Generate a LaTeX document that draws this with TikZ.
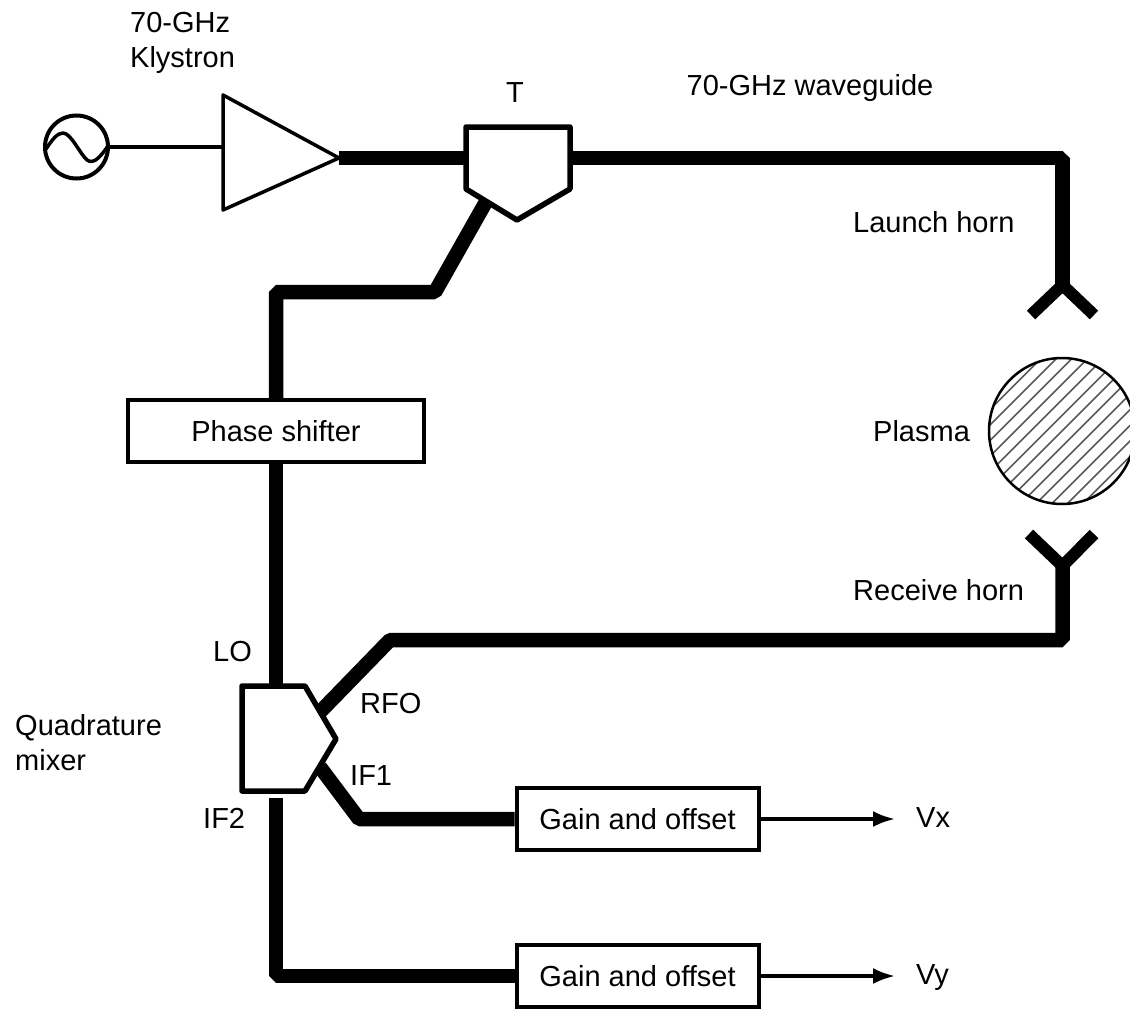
\documentclass[tikz,border=0pt]{standalone}
\usepackage{fontspec}
\setmainfont{Liberation Sans}
\usetikzlibrary{arrows.meta,calc,backgrounds}
\tikzset{
  wg/.style={line width=14.5pt,line join=bevel},
  hornline/.style={line width=12pt,line join=miter},
  thin wire/.style={line width=3.3pt},
  blockline/.style={line width=5.5pt,line join=round,fill=white},
  ampline/.style={line width=3.5pt,line join=round,fill=white},
  boxnode/.style={draw,line width=4pt,fill=white,minimum width=#1,minimum height=62pt,inner sep=0pt,font=\fontsize{29}{29}\selectfont},
  lab/.style={anchor=west,inner sep=0pt,font=\fontsize{29}{35}\selectfont},
  labc/.style={anchor=center,inner sep=0pt,font=\fontsize{29}{35}\selectfont},
  sig/.style={line width=3.5pt,-{Latex[length=22pt,width=16pt]}}
}
\begin{document}
\begin{tikzpicture}[x=1pt,y=-1pt]
\useasboundingbox (0,0) rectangle (1130,1009);
\clip (0,0) rectangle (1130,1009);
% anchors
\coordinate (oscC) at (76.5,147);
\coordinate (oscE) at (109,147);
\coordinate (ampIn) at (223,147);
\coordinate (ampTip) at (339,158);
\coordinate (teeW) at (466,158);
\coordinate (teeE) at (570,158);
\coordinate (teeS) at (487,200);
\coordinate (wgNE) at (1062.5,158);
\coordinate (lh) at (1062.5,285);
\coordinate (lhL) at (1031,315);
\coordinate (lhR) at (1094,315);
\coordinate (rh) at (1062.5,566);
\coordinate (rhL) at (1029,534);
\coordinate (rhR) at (1094,534);
\coordinate (rfCorner) at (1062.5,640);
\coordinate (rfBend) at (390,640);
\coordinate (mixRF) at (320,712);
\coordinate (mixIF) at (320,767);
\coordinate (ifBend) at (359,819);
\coordinate (bendA) at (435,292);
\coordinate (bendB) at (276,292);
\coordinate (mixN) at (276,688);
\coordinate (mixS) at (276,798);
\coordinate (bendC) at (276,976);
% boxes
\node[boxnode=296pt] (ps) at (276,431) {Phase shifter};
\node[boxnode=242pt] (g1) at (637.5,819) {Gain and offset};
\node[boxnode=242pt] (g2) at (637.5,976) {Gain and offset};
\coordinate (v1) at (895,819);
\coordinate (v2) at (895,976);
% waveguides
\begin{scope}[on background layer]
\draw[wg] (ampTip) -- (teeW);
\draw[wg] (teeE) -- (wgNE) -- (lh);
\draw[wg] (teeS) -- (bendA) -- (bendB) -- (ps.north);
\draw[wg] (ps.south) -- (mixN);
\draw[wg] (rh) -- (rfCorner) -- (rfBend) -- (mixRF);
\draw[wg] (mixIF) -- (ifBend) -- (g1.west);
\draw[wg] (mixS) -- (bendC) -- (g2.west);
\draw[hornline] (lhL) -- (lh) -- (lhR);
\draw[hornline] (rhL) -- (rh) -- (rhR);
\end{scope}
% oscillator
\draw[thin wire] (oscE) -- (ampIn);
\node[draw,circle,line width=4pt,minimum size=63pt,inner sep=0pt] (osc) at (oscC) {};
\draw[line width=3.5pt,line join=round] (46,149) .. controls (52,140) and (57,133) .. (63,133) .. controls (71,133) and (80,154) .. (87,160) .. controls (94,165) and (101,156) .. (108,146);
% amplifier
\draw[ampline] (223,95) -- (ampTip) -- (223,210) -- cycle;
% T junction
\draw[blockline] (466,127) -- (570,127) -- (570,189) -- (517,220) -- (466,189) -- cycle;
% mixer
\draw[blockline] (242,686) -- (305,686) -- (336,739) -- (305,791) -- (242,791) -- cycle;
% plasma
\begin{scope}
\clip (1062,431) circle[radius=73];
\foreach \d in {-8,-7,...,8}{
  \draw[line width=1.6pt,black!65] ($(1062,431)+(\d*7.8,\d*7.8)+(-110,110)$) -- ($(1062,431)+(\d*7.8,\d*7.8)+(110,-110)$);
}
\end{scope}
\draw[line width=2.5pt] (1062,431) circle[radius=73];
% outputs
\draw[sig] (g1.east) -- (v1);
\draw[sig] (g2.east) -- (v2);
% labels
\node[lab,align=left] (k) at (130,43) {70-GHz\\Klystron};
\node[labc] (t) at (515,93) {T};
\node[lab] (wl) at (686.5,88.5) {70-GHz waveguide};
\node[lab] (lhl) at (853,222) {Launch horn};
\node[lab] (pl) at (873,431) {Plasma};
\node[lab] (rhl) at (853,590) {Receive horn};
\node[lab] (lo) at (213,652) {LO};
\node[lab] (rfo) at (360,704) {RFO};
\node[lab] (if1) at (350,776) {IF1};
\node[lab] (if2) at (203,818) {IF2};
\node[lab,align=left] (qm) at (15,743) {Quadrature\\mixer};
\node[lab] (vx) at (916,818) {Vx};
\node[lab] (vy) at (916,977.5) {Vy};
\end{tikzpicture}
\end{document}
